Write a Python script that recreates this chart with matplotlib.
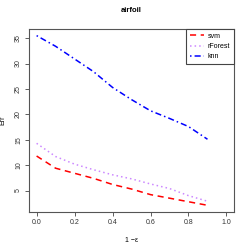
import matplotlib
matplotlib.use("Agg")
import matplotlib.pyplot as plt

# data
x = [0.0, 0.1, 0.2, 0.3, 0.4, 0.5, 0.6, 0.7, 0.8, 0.9]
svm = [11.8, 9.4, 8.4, 7.4, 6.2, 5.3, 4.2, 3.5, 2.8, 2.1]
rforest = [14.3, 11.7, 10.2, 9.1, 8.1, 7.3, 6.3, 5.4, 4.0, 2.9]
knn = [35.5, 33.4, 30.9, 28.4, 25.3, 22.9, 20.7, 19.2, 17.6, 15.1]
xticks = [0.0, 0.2, 0.4, 0.6, 0.8, 1.0]
yticks = [5, 10, 15, 20, 25, 30, 35]

plt.rcParams["font.family"] = ["Liberation Sans", "DejaVu Sans"]

fig = plt.figure(figsize=(2.49, 2.49), dpi=100)
ax = fig.add_axes([0.1165, 0.149, 0.8235, 0.7345])

ax.plot(x, svm, color="red", linestyle=(0, (4, 3)), linewidth=1.1, label="svm")
ax.plot(x, rforest, color="#cc88ff", linestyle=(0, (1, 2)), linewidth=1.1, label="rForest")
ax.plot(x, knn, color="blue", linestyle=(0, (1, 2, 4, 2)), linewidth=1.1, label="knn")

ax.set_xlim(-0.04, 1.04)
ax.set_ylim(0.8, 36.8)
ax.set_xticks(xticks)
ax.set_xticklabels(["0.0", "0.2", "0.4", "0.6", "0.8", "1.0"])
ax.set_yticks(yticks)
ax.set_yticklabels([str(v) for v in yticks], rotation=90, va="center")
ax.tick_params(labelsize=5, length=3, width=0.6, color="#444444", labelcolor="#333333", pad=2)

for s in ax.spines.values():
    s.set_linewidth(0.8)
    s.set_color("#555555")

ax.set_title("airfoil", fontsize=5.5, fontweight="bold", pad=12)
ax.set_xlabel("1 \u2212\u03b5", fontsize=5, labelpad=8)
ax.set_ylabel("Err", fontsize=5, labelpad=6)

leg = ax.legend(loc="upper right", bbox_to_anchor=(1, 1), borderaxespad=0,
                fontsize=5, fancybox=False, framealpha=1, handlelength=2.0,
                handletextpad=0.6, labelspacing=0.45, borderpad=0.55)
leg.get_frame().set_edgecolor("#444444")
leg.get_frame().set_linewidth(0.8)

fig.savefig("out.png", dpi=100)
